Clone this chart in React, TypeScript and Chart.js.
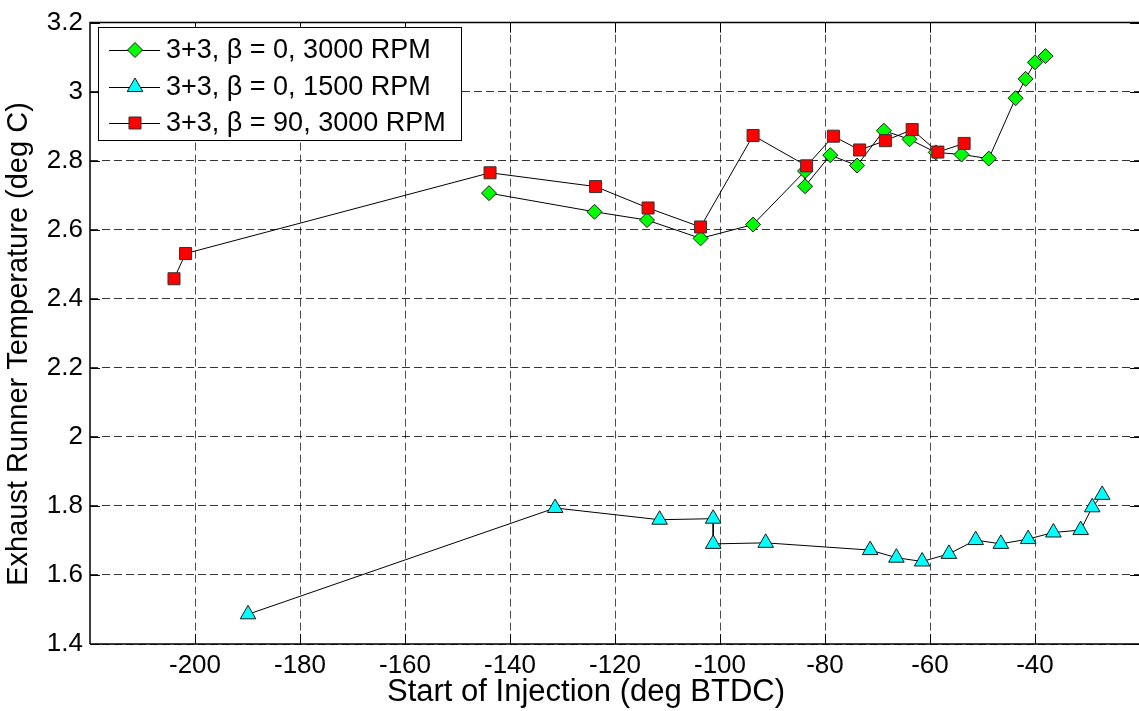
import React, { useEffect, useRef } from "react";
import { Chart, registerables } from "chart.js";

Chart.register(...registerables);

// ---- data ----
const greenX = [-144, -123.9, -113.9, -103.7, -93.7, -83.8, -83.8, -79.0, -73.9, -68.8, -63.9, -58.9, -54.0, -48.8, -43.7, -41.8, -40.0, -38.0];
const greenY = [2.706, 2.652, 2.628, 2.575, 2.615, 2.77, 2.726, 2.816, 2.786, 2.887, 2.862, 2.824, 2.818, 2.806, 2.981, 3.037, 3.085, 3.103];

const cyanX = [-189.9, -131.4, -111.5, -101.3, -101.3, -91.3, -71.4, -66.4, -61.5, -56.4, -51.3, -46.5, -41.3, -36.5, -31.3, -29.1, -27.2];
const cyanY = [1.486, 1.794, 1.760, 1.763, 1.690, 1.693, 1.672, 1.650, 1.639, 1.661, 1.701, 1.690, 1.704, 1.723, 1.730, 1.796, 1.832];

const redX = [-204.0, -201.8, -143.8, -123.7, -113.7, -103.7, -93.7, -83.5, -78.4, -73.4, -68.5, -63.4, -58.5, -53.5];
const redY = [2.458, 2.531, 2.765, 2.725, 2.663, 2.608, 2.873, 2.785, 2.871, 2.831, 2.858, 2.890, 2.825, 2.850];

const seriesLabels = ["3+3, \u03B2 = 0, 3000 RPM", "3+3, \u03B2 = 0, 1500 RPM", "3+3, \u03B2 = 90, 3000 RPM"];

const xTicks = [-200, -180, -160, -140, -120, -100, -80, -60, -40];
const xTickLabels = ["-200", "-180", "-160", "-140", "-120", "-100", "-80", "-60", "-40"];
const yTicks = [1.4, 1.6, 1.8, 2, 2.2, 2.4, 2.6, 2.8, 3, 3.2];
const yTickLabels = ["1.4", "1.6", "1.8", "2", "2.2", "2.4", "2.6", "2.8", "3", "3.2"];

const xTitle = "Start of Injection (deg BTDC)";
const yTitle = "Exhaust Runner Temperature (deg C)";

const FONT = "'Liberation Sans', Arial, sans-serif";
const TICK_FS = 26;
const LEG_FS = 27;
const TITLE_FS = 29;
const XTITLE_FS = 31;

const toPts = (xs: number[], ys: number[]) => xs.map((x, i) => ({ x, y: ys[i] }));

function marker(ctx: CanvasRenderingContext2D, style: string, r: number, x: number, y: number) {
  ctx.beginPath();
  if (style === "rectRot") {
    ctx.moveTo(x - r, y);
    ctx.lineTo(x, y - r);
    ctx.lineTo(x + r, y);
    ctx.lineTo(x, y + r);
  } else if (style === "triangle") {
    for (let k = 0; k < 3; k++) {
      const a = (k * 2 * Math.PI) / 3;
      const px = x + Math.sin(a) * r;
      const py = y - Math.cos(a) * r;
      if (k === 0) ctx.moveTo(px, py);
      else ctx.lineTo(px, py);
    }
  } else {
    const s = Math.SQRT1_2 * r;
    ctx.rect(x - s, y - s, 2 * s, 2 * s);
  }
  ctx.closePath();
  ctx.fill();
  ctx.stroke();
}

const frameAndTicks = {
  id: "frameAndTicks",
  afterDatasetsDraw(chart: any) {
    const { ctx, chartArea: a, scales } = chart;
    ctx.save();
    ctx.strokeStyle = "#000";
    ctx.lineWidth = 1.5;
    ctx.setLineDash([]);
    ctx.beginPath();
    ctx.moveTo(a.left, a.bottom);
    ctx.lineTo(a.left, a.top);
    ctx.lineTo(a.right, a.top);
    ctx.lineTo(a.right, a.bottom);
    ctx.lineTo(a.left, a.bottom);
    ctx.stroke();
    ctx.lineWidth = 1;
    const tl = 10;
    ctx.beginPath();
    xTicks.forEach((v) => {
      const px = Math.round(scales.x.getPixelForValue(v)) + 0.5;
      ctx.moveTo(px, a.bottom);
      ctx.lineTo(px, a.bottom - tl);
      ctx.moveTo(px, a.top);
      ctx.lineTo(px, a.top + tl);
    });
    yTicks.forEach((v) => {
      const py = Math.round(scales.y.getPixelForValue(v)) + 0.5;
      ctx.moveTo(a.left, py);
      ctx.lineTo(a.left + tl, py);
      ctx.moveTo(a.right, py);
      ctx.lineTo(a.right - tl, py);
    });
    ctx.stroke();

    // axis titles
    ctx.fillStyle = "#000";
    ctx.textAlign = "center";
    ctx.textBaseline = "middle";
    ctx.font = `${XTITLE_FS}px ${FONT}`;
    ctx.fillText(xTitle, 586, 692);
    ctx.font = `${TITLE_FS}px ${FONT}`;
    ctx.save();
    ctx.translate(19, 344);
    ctx.rotate(-Math.PI / 2);
    ctx.fillText(yTitle, 0, 0);
    ctx.restore();
    ctx.restore();
  },
};

const legendBox = {
  id: "legendBox",
  afterDraw(chart: any) {
    const { ctx } = chart;
    const x0 = 98, y0 = 27, w = 363, h = 113;
    ctx.save();
    ctx.fillStyle = "#fff";
    ctx.strokeStyle = "#000";
    ctx.lineWidth = 1;
    ctx.setLineDash([]);
    ctx.fillRect(x0, y0, w, h);
    ctx.strokeRect(x0 + 0.5, y0 + 0.5, w, h);
    const rows = [50, 87, 123];
    [0, 1, 2].forEach((di, r) => {
      const ds = chart.data.datasets[di];
      const y = rows[r];
      ctx.strokeStyle = "#000";
      ctx.lineWidth = 1;
      ctx.beginPath();
      ctx.moveTo(109, y + 0.5);
      ctx.lineTo(160, y + 0.5);
      ctx.stroke();
      ctx.fillStyle = ds.pointBackgroundColor;
      ctx.strokeStyle = ds.pointBorderColor;
      marker(ctx, ds.pointStyle, ds.pointRadius, 135, y);
      ctx.fillStyle = "#000";
      ctx.font = `${LEG_FS}px ${FONT}`;
      ctx.textBaseline = "middle";
      ctx.textAlign = "left";
      ctx.fillText(ds.label, 166, y + 1);
    });
    ctx.restore();
  },
};

export default function App() {
  const ref = useRef<HTMLCanvasElement | null>(null);
  useEffect(() => {
    if (!ref.current) return;
    const chart = new Chart(ref.current, {
      type: "line",
      data: {
        datasets: [
          {
            label: seriesLabels[0],
            data: toPts(greenX, greenY),
            borderColor: "#000",
            borderWidth: 1,
            pointStyle: "rectRot",
            pointRadius: 7.5,
            pointBackgroundColor: "#00ff00",
            pointBorderColor: "#1a1a1a",
            pointBorderWidth: 1,
            order: 2,
          },
          {
            label: seriesLabels[1],
            data: toPts(cyanX, cyanY),
            borderColor: "#000",
            borderWidth: 1,
            pointStyle: "triangle",
            pointRadius: 9,
            pointBackgroundColor: "#00ffff",
            pointBorderColor: "#1a1a1a",
            pointBorderWidth: 1,
            order: 1,
          },
          {
            label: seriesLabels[2],
            data: toPts(redX, redY),
            borderColor: "#000",
            borderWidth: 1,
            pointStyle: "rect",
            pointRadius: 8.5,
            pointBackgroundColor: "#ff0000",
            pointBorderColor: "#333",
            pointBorderWidth: 1,
            order: 0,
          },
        ] as any,
      },
      options: {
        animation: false,
        responsive: false,
        devicePixelRatio: 1,
        layout: { padding: { top: 16, right: 6, bottom: 0, left: 0 } },
        plugins: { legend: { display: false }, tooltip: { enabled: false } },
        elements: { line: { tension: 0 } },
        scales: {
          x: {
            type: "linear",
            min: -220,
            max: -20,
            afterBuildTicks: (s: any) => {
              s.ticks = xTicks.map((v) => ({ value: v }));
            },
            afterFit: (s: any) => {
              s.height = 67;
            },
            ticks: {
              callback: (v: any) => xTickLabels[xTicks.indexOf(Number(v))] ?? "",
              font: { family: FONT, size: TICK_FS },
              color: "#000",
              padding: 6,
              maxRotation: 0,
              autoSkip: false,
            },
            grid: {
              color: "rgba(0,0,0,0.7)",
              lineWidth: 1,
              drawTicks: false,
              tickLength: 0,
            },
            border: { display: false, dash: [8, 4] },
            title: { display: false },
          },
          y: {
            type: "linear",
            min: 1.4,
            max: 3.2,
            afterBuildTicks: (s: any) => {
              s.ticks = yTicks.map((v) => ({ value: v }));
            },
            afterFit: (s: any) => {
              s.width = 90;
            },
            ticks: {
              callback: (v: any) => {
                const i = yTicks.findIndex((t) => Math.abs(t - Number(v)) < 1e-6);
                return i >= 0 ? yTickLabels[i] : "";
              },
              font: { family: FONT, size: TICK_FS },
              color: "#000",
              padding: 7,
              autoSkip: false,
            },
            grid: {
              color: "rgba(0,0,0,0.8)",
              lineWidth: 1,
              drawTicks: false,
              tickLength: 0,
            },
            border: { display: false, dash: [8, 4] },
            title: { display: false },
          },
        },
      } as any,
      plugins: [frameAndTicks, legendBox],
    });
    return () => chart.destroy();
  }, []);

  return (
    <div style={{ position: "fixed", left: 0, top: 0, width: 1139, height: 711, overflow: "hidden", background: "#fff" }}>
      <canvas ref={ref} width={1150} height={711} style={{ display: "block" }} />
    </div>
  );
}
